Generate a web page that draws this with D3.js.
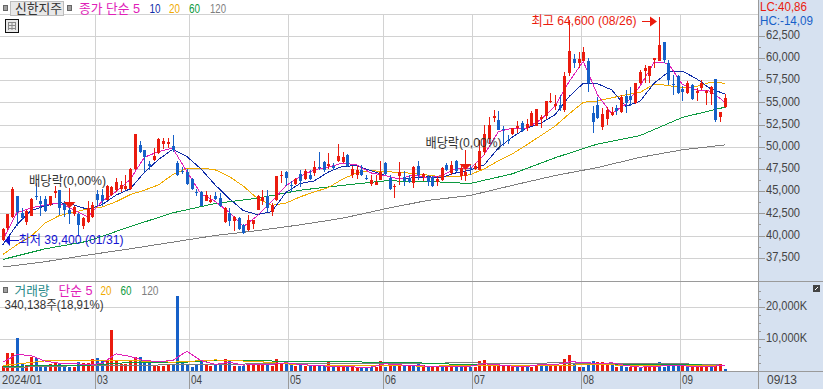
<!DOCTYPE html>
<html>
<head>
<meta charset="utf-8">
<script src="https://cdn.jsdelivr.net/npm/d3@7"></script>
<style>
  html, body { margin: 0; padding: 0; background: #fff; }
  svg { display: block; }
  text { font-family: "Liberation Sans", "Noto Sans CJK KR", sans-serif; font-size: 13px; }
</style>
</head>
<body>
<div id="chart"></div>
<script>
// open, high, low, close per trading day, 2024/01/31 to 09/13
const candles = [
  [39450,40850,39400,40750],[40850,42450,40650,42450],[42100,45450,41950,45250],[44400,44400,41050,42600],
  [42550,43100,41700,41950],[41500,42900,41200,42800],[42250,44200,42150,44150],[44500,45900,43950,44400],
  [43900,44400,42250,43600],[44100,44400,42600,42800],[43400,44500,43350,44500],[44800,45550,44200,45050],
  [45100,45150,42350,43150],[43600,43850,42100,42900],[42850,43300,41350,42450],[42450,43300,42250,43200],
  [42400,42550,40100,41150],[41050,42100,40750,41950],[41500,43850,41400,43100],[42100,43750,41950,43450],
  [44700,45150,43350,44050],[44600,45250,43300,43900],[44050,45700,43950,45600],[44600,45550,44500,45450],
  [45150,46450,44850,46000],[45250,46100,44950,45650],[45250,46850,45100,45550],[45250,47550,45150,47500],
  [47500,51450,47400,51450],[50200,50600,49300,49450],[49600,49650,47200,48850],[48050,48400,47400,47800],
  [48450,49850,48350,48900],[49300,50950,49200,50900],[50350,50950,49750,50600],[50250,50950,49850,50550],
  [50050,51350,49450,49650],[48150,48350,46650,46850],[47250,47700,46900,47100],[47200,47500,45700,45800],
  [46350,46450,45150,45250],[44900,45250,44400,44800],[44950,45050,43300,43350],[43900,45050,43850,44600],
  [43750,44600,43650,44050],[44400,44850,44050,44150],[44200,44800,43200,43350],[41500,43200,41400,43100],
  [42550,43100,41100,41650],[41650,42250,40550,42100],[41950,42100,40600,40750],[41200,41350,40200,40300],
  [40600,42350,40500,41800],[41300,41800,40750,41700],[42900,44600,42900,44400],[43900,45150,43450,44350],
  [44500,45150,42700,43100],[42700,43650,42250,43450],[44050,46750,43850,46750],[46750,47300,45900,46850],
  [47150,47300,45550,46450],[45650,46100,44950,45600],[45850,46450,45700,46350],[46950,47400,45450,46100],
  [46350,47500,46200,47300],[46850,47400,46200,46350],[47050,48350,46750,47700],[47700,49350,47400,47650],
  [48250,48350,47200,47400],[47850,49300,47500,48100],[47800,48150,47400,47600],[48350,50250,48250,49000],
  [48250,49450,48150,48850],[49100,49200,47700,47800],[46850,47850,46450,47500],[46800,47850,46350,47400],
  [47350,47950,46650,46850],[46450,46850,46200,46400],[45850,46850,45600,46300],[45700,46850,45700,46000],
  [46300,48350,46200,47150],[48150,48250,46850,46900],[46450,46850,45150,45250],[45450,45850,44200,45600],
  [46750,48250,45700,47100],[46600,47300,45550,46100],[46450,46850,45900,46000],[45900,47800,45350,47700],
  [47800,48350,46300,46850],[46550,47050,46100,46950],[46550,46850,45600,46000],[46550,46650,45450,45550],
  [46000,46650,45550,46350],[46200,47700,46100,47600],[47950,48150,47300,47400],[47050,48350,46850,47950],
  [48400,48550,47200,47300],[46650,48050,46300,47600],[46750,47700,46100,47100],[47550,47950,46850,47500],
  [47500,48150,47400,47850],[47400,50800,47400,49500],[49350,52500,49100,51450],[50850,53400,50250,52500],
  [53250,54150,52750,53500],[53050,54050,51850,51900],[51950,52300,50050,51900],[50800,51350,50350,50750],
  [51450,52100,51350,52050],[52050,52950,51550,52350],[52650,52850,51600,51750],[52050,53100,51750,52600],
  [52350,54000,52300,53850],[52350,54300,52300,54300],[53100,53600,52100,53350],[53500,55100,53100,55100],
  [55000,56100,54900,55200],[54600,55850,54150,54850],[54650,55850,54000,54350],[54100,58450,53950,58000],
  [58350,64300,58000,60800],[59900,60450,58900,59450],[59450,60700,58900,59900],[59700,61200,59700,60700],
  [59600,60000,56200,57200],[53850,54550,51550,52750],[54750,55650,53100,53250],[52200,54400,51900,53700],
  [53100,54450,52500,54100],[53600,54450,53500,53950],[54350,54750,53600,54050],[53950,55850,53850,55650],
  [55750,56400,53850,54950],[55750,56750,54600,55300],[54900,57200,54850,57200],[57200,58650,57100,58400],
  [58500,59250,57150,58850],[58000,59100,57200,59100],[59800,60000,58900,60000],[59700,64600,59600,61500],
  [61800,61800,59450,59800],[59450,59800,57000,57550],[57100,58100,55850,57050],[58000,58100,55950,56050],
  [56550,56800,55200,56200],[56050,57350,55950,57150],[57000,57100,55300,55350],[56100,56650,55200,56250],
  [56600,57550,56400,57150],[56100,56400,54750,56300],[55950,56800,54750,56700],[57600,57650,52800,53050],
  [53350,53950,52800,53900],[54450,55950,54350,55500]
];

// price moving averages, every 3rd trading day
const ma5 = [39500,42550,43100,43450,43650,42900,42100,43800,44950,46300,48800,49450,49850,47200,44700,43850,42600,41000,42250,43850,45600,46650,47400,47700,48150,47950,47050,46750,46350,46850,46500,46750,47550,47500,49100,51700,52100,52100,53050,54550,57350,59600,55850,53700,54800,56800,59500,59400,57000,56400,56250,55000];
const ma10 = [38950,41200,42800,43350,43700,43450,42950,43450,44550,45250,47100,48550,49700,48900,47500,45700,44150,42800,42350,42700,44850,45850,46150,47150,47800,47850,47300,46750,46350,46500,46600,46550,47050,47350,47950,49850,51100,52100,52650,53600,55650,57150,57100,56400,54550,55100,57150,58400,58500,57650,56500,55950];
const ma20 = [37850,38950,39900,41400,42250,42600,43000,43200,43800,44600,45100,45700,46850,47550,47600,47400,46650,45550,44150,43400,43650,44350,44900,45400,46350,47050,47300,47200,47100,47000,46800,46600,46600,46850,47500,48400,49200,50200,51250,52300,53700,55000,55150,55500,55850,56100,57050,56900,56600,56800,57250,57150];
// slower averages, every 9th trading day
const ma60 = [37300,38500,39350,41000,42550,43600,44200,45100,45650,46150,46100,45850,46950,48750,50300,51250,53300,54450];
const ma120 = [36450,37050,37800,38500,39250,40000,40550,41200,41950,43000,43950,44500,45650,46750,47650,48800,49650,50200];

// volume in thousands of shares
const volumes = [1560,5620,5620,10190,2080,1870,4370,3950,1870,1870,2080,2290,2500,1250,1250,1250,2810,2290,2290,3740,4060,3430,3120,12790,3330,2080,2080,3330,4370,4370,2290,2290,1560,1560,1560,2080,1870,23400,2600,1770,1250,2080,2910,1870,1560,2080,1870,3640,3120,1560,1560,1560,1870,2080,2500,2080,2080,1560,3640,2080,2080,2080,1450,2080,1450,1450,1450,1450,1450,2600,1450,1770,1450,1450,1250,1040,1040,1040,1040,1250,3120,1250,1450,1450,1450,1450,1450,1870,2080,1870,1040,1040,1450,1250,1250,1040,1250,1250,1250,1250,1250,2910,3430,1560,1450,1450,1450,1450,1450,1870,1450,1250,1250,1870,1870,1870,2080,1560,1350,3640,4990,2080,1250,1250,2080,3120,2600,2600,2080,2080,1250,2080,940,1250,1040,1040,1250,1250,1450,2600,1250,1770,1450,1450,1450,1250,1040,1250,1250,1250,1040,2080,2080,340];
const volumeUp = "rrrbbrrbbbrrbbbrbrrrbbrrrrrrrbbbrrrrbbbbbbbrrbbrbrbbrrrrbrrrbbrbrbrbbrbrrbrrbbbrrbrbrbrbbrbrrbrrbbrbrrrrrrrrrbrbrrbbrrrrrbrbbbrrrbrbbrrbrrrbbbbbrbrrrrbrr";

const volMa5 = [2600,5000,4700,2900,2300,2100,1900,2100,5200,4400,3100,2800,3100,6000,3100,1900,2600,1700,1800,1900,2400,1900,1550,1350,1350,1050,1050,2100,1750,1550,1350,1250,1350,1350,2100,1750,1350,1250,1900,1750,2700,2600,2100,2400,1550,1050,1250,1550,1450,1250,1250,1650];
const volMa20 = [1550,3000,3100,3100,2600,3300,2800,1750,1550,1550,1350,1550,1650,1550,1900,1450,1450,1450];
const volMa60 = [1250,1550,1650,2500,2400,3100,3000,2900,2700,2600,2300,1750,1550,1550,1900,1750,1950,1450];
const volMa120 = [850,1250,1550,1650,1750,1850,2100,2100,2100,2300,2300,2400,2100,2400,2100,2100,2100,1650];

const priceTicks = [37500,40000,42500,45000,47500,50000,52500,55000,57500,60000,62500];
const priceGrid = [37500,40000,42500,45000,47500,50000,52500,55000,57500,60000,62500,65000];
const priceMinorTicks = [38750,41250,43750,46250,48750,51250,53750,56250,58750,61250,63750];
const volumeTicks = [10000,20000];
const volumeMinorTicks = [2500,5000,7500,12500,15000,17500,22500,25000];

const monthLabels = ["03","04","05","06","07","08","09"];
const monthStarts = [20,40,61,81,100,123,144];
const dividendDays = [14,98];

const red = "#ea1b0e", blue = "#1660c8", magenta = "#e020b8", navy = "#0f2ca8";
const orange = "#f0aa00", green = "#0c9a40", gray = "#7e7e7e";
const lowBlue = "#1414d2", panelBg = "#d6e1f0", gridColor = "#d2d2d2", lineColor = "#9a9a9a", textColor = "#444";

const width = 823, height = 389, plotRight = 758;

const x = d3.scaleLinear().domain([0, 153]).range([2.7, 724.9]);
const y = d3.scaleLinear().domain([50000, 62500]).range([146.7, 35.7]);
const yVol = d3.scaleLinear().domain([0, 20000]).range([370.5, 306.5]);
const gridX = (i) => Math.round(x(i) - 2.4) + 0.5;

const svg = d3.select("#chart").append("svg").attr("width", width).attr("height", height);

// axis panels
svg.append("rect").attr("x", plotRight).attr("y", 0).attr("width", width - plotRight).attr("height", height).attr("fill", panelBg);
svg.append("rect").attr("x", 0).attr("y", 371).attr("width", width).attr("height", 18).attr("fill", panelBg);

// grid
const grid = svg.append("g").attr("stroke", gridColor).attr("shape-rendering", "crispEdges");
grid.selectAll(".h").data(priceGrid).join("line").attr("class", "h")
  .attr("x1", 0).attr("x2", plotRight)
  .attr("y1", (d) => Math.round(y(d)) + 0.5).attr("y2", (d) => Math.round(y(d)) + 0.5);
grid.selectAll(".v").data(volumeTicks).join("line").attr("class", "v")
  .attr("x1", 0).attr("x2", plotRight)
  .attr("y1", (d) => Math.round(yVol(d)) + 0.5).attr("y2", (d) => Math.round(yVol(d)) + 0.5);
grid.selectAll(".m").data(monthStarts).join("line").attr("class", "m")
  .attr("x1", gridX).attr("x2", gridX).attr("y1", 14).attr("y2", 371);

// panel borders
const borders = svg.append("g").attr("stroke", lineColor).attr("shape-rendering", "crispEdges");
borders.append("line").attr("x1", 0).attr("x2", width).attr("y1", 281.5).attr("y2", 281.5);
borders.append("line").attr("x1", 0).attr("x2", width).attr("y1", 371.5).attr("y2", 371.5);
borders.append("line").attr("x1", plotRight + 0.5).attr("x2", plotRight + 0.5).attr("y1", 0).attr("y2", height);
borders.selectAll(".m").data(monthStarts).join("line").attr("class", "m")
  .attr("x1", gridX).attr("x2", gridX).attr("y1", 372).attr("y2", height);

// price moving averages
const priceLine = (stride) => d3.line().x((d, i) => x(i * stride)).y((d) => y(d));
[[ma120, 9, gray], [ma60, 9, green], [ma20, 3, orange], [ma10, 3, navy], [ma5, 3, magenta]].forEach(([values, stride, color]) => {
  svg.append("path").attr("d", priceLine(stride)(values)).attr("fill", "none")
    .attr("stroke", color).attr("stroke-width", 1).attr("shape-rendering", "crispEdges");
});

// candles
const candleColor = (d) => (d[3] >= d[0] ? red : blue);
const candle = svg.append("g").attr("shape-rendering", "crispEdges");
candle.selectAll(".wick").data(candles).join("rect").attr("class", "wick")
  .attr("x", (d, i) => Math.round(x(i))).attr("width", 1)
  .attr("y", (d) => y(d[1])).attr("height", (d) => Math.max(1, y(d[2]) - y(d[1])))
  .attr("fill", candleColor);
candle.selectAll(".body").data(candles).join("rect").attr("class", "body")
  .attr("x", (d, i) => Math.round(x(i)) - 1).attr("width", 3)
  .attr("y", (d) => y(Math.max(d[0], d[3]))).attr("height", (d) => Math.max(1, Math.abs(y(d[0]) - y(d[3]))))
  .attr("fill", candleColor);

// volume bars
const volBars = svg.append("g").attr("shape-rendering", "crispEdges");
volBars.selectAll("rect").data(volumes).join("rect")
  .attr("x", (d, i) => Math.round(x(i)) - 1).attr("width", 3)
  .attr("y", (d) => Math.min(yVol(d), 368.5)).attr("height", (d) => Math.max(2, yVol(0) - yVol(d)))
  .attr("fill", (d, i) => (volumeUp[i] === "r" ? red : blue));

const volLine = (stride) => d3.line().x((d, i) => x(i * stride)).y((d) => yVol(d));
[[volMa120, 9, gray], [volMa60, 9, green], [volMa20, 9, orange], [volMa5, 3, magenta]].forEach(([values, stride, color]) => {
  svg.append("path").attr("d", volLine(stride)(values)).attr("fill", "none")
    .attr("stroke", color).attr("stroke-width", 1).attr("shape-rendering", "crispEdges");
});

// right axes
const axisStyle = (labelWidth) => (g) => {
  g.select(".domain").remove();
  g.selectAll("line").attr("stroke", lineColor).attr("shape-rendering", "crispEdges");
  g.selectAll("text").attr("fill", textColor).attr("dy", "0.22em").style("font-size", "13px")
    .attr("textLength", labelWidth).attr("lengthAdjust", "spacingAndGlyphs");
};
svg.append("g").attr("transform", `translate(${plotRight},0)`)
  .call(d3.axisRight(y).tickValues(priceTicks).tickSize(7).tickPadding(1).tickFormat(d3.format(",")))
  .call(axisStyle(34));
svg.append("g").attr("transform", `translate(${plotRight},0)`)
  .call(d3.axisRight(y).tickValues(priceMinorTicks).tickSize(3).tickFormat(""))
  .call(axisStyle(null));
svg.append("g").attr("transform", `translate(${plotRight},0)`)
  .call(d3.axisRight(yVol).tickValues(volumeTicks).tickSize(7).tickPadding(1).tickFormat((d) => d3.format(",")(d) + "K"))
  .call(axisStyle(41));
svg.append("g").attr("transform", `translate(${plotRight},0)`)
  .call(d3.axisRight(yVol).tickValues(volumeMinorTicks).tickSize(3).tickFormat(""))
  .call(axisStyle(null));

const addText = (label, tx, ty, color, len) => svg.append("text").attr("x", tx).attr("y", ty).attr("fill", color)
  .attr("textLength", len).attr("lengthAdjust", "spacingAndGlyphs").text(label);

// month labels
addText("2024/01", 2, 384, textColor, 40);
monthLabels.forEach((m, i) => addText(m, gridX(monthStarts[i]) + 1.5, 384, textColor, 11));
addText("09/13", 767, 384, textColor, 30);

// dividend markers
dividendDays.forEach((i) => {
  const cx = Math.round(x(i)) + 0.5;
  const top = i === 14 ? 188 : 150;
  svg.append("line").attr("x1", cx).attr("x2", cx).attr("y1", top).attr("y2", top + 15).attr("stroke", red);
  svg.append("path").attr("d", `M${cx - 6},${top + 14}h12l-6,6z`).attr("fill", red);
});
addText("배당락(0,00%)", 29, 185, "#333", 77);
addText("배당락(0,00%)", 425.5, 147, "#333", 76);

// high and low callouts
addText("최고 64,600 (08/26)", 531.5, 25, red, 105);
svg.append("line").attr("x1", 642).attr("x2", 652).attr("y1", 21.5).attr("y2", 21.5).attr("stroke", red);
svg.append("path").attr("d", "M650,16.5l7,5l-7,5z").attr("fill", red);
addText("최저 39,400 (01/31)", 18.5, 244, lowBlue, 105);
svg.append("line").attr("x1", 10).attr("x2", 19).attr("y1", 240.5).attr("y2", 240.5).attr("stroke", lowBlue);
svg.append("path").attr("d", "M10,235l-5,5.5l5,5.5z").attr("fill", lowBlue);

// top legend
const square = (sx, sy) => svg.append("rect").attr("x", sx + 0.5).attr("y", sy + 0.5).attr("width", 4).attr("height", 5)
  .attr("fill", "#a0a0a0").attr("stroke", "#666").attr("shape-rendering", "crispEdges");
square(3, 5);
square(67, 5);
svg.append("rect").attr("x", 10.5).attr("y", 1.5).attr("width", 53).attr("height", 14)
  .attr("fill", "#e8e8e8").attr("stroke", "#bcbcbc").attr("shape-rendering", "crispEdges");
addText("신한지주", 15, 13, "#333", 47);
addText("종가 단순 5", 79, 13, magenta, 61);
addText("10", 149.5, 13, navy, 11);
addText("20", 169, 13, orange, 11);
addText("60", 189, 13, green, 11);
addText("120", 210, 13, gray, 16);

// table icon
svg.append("rect").attr("x", 5.5).attr("y", 19.5).attr("width", 13).attr("height", 13)
  .attr("fill", "#e8e8e8").attr("stroke", "#111").attr("shape-rendering", "crispEdges");
svg.append("path").attr("d", "M8,22.5h8M8,25.5h8M8,28.5h8M8.5,22v8M12,22v8M15.5,22v8").attr("stroke", "#888").attr("fill", "none");

// volume legend
square(3, 287);
addText("거래량", 14.5, 295, "#2a8a8a", 35);
addText("단순 5", 58.5, 295, magenta, 34);
addText("20", 100.5, 295, orange, 11);
addText("60", 120.5, 295, green, 11);
addText("120", 141.5, 295, gray, 17);
addText("340,138주(18,91%)", 4.5, 309, "#333", 99);

// LC / HC readout
svg.append("text").attr("x", 760).attr("y", 11).attr("fill", red).attr("textLength", 47).attr("lengthAdjust", "spacingAndGlyphs").style("font-size", "12px").text("LC:40,86");
svg.append("text").attr("x", 760).attr("y", 25).attr("fill", blue).attr("textLength", 53).attr("lengthAdjust", "spacingAndGlyphs").style("font-size", "12px").text("HC:-14,09");

// expand button
svg.append("rect").attr("x", 813).attr("y", 285).attr("width", 7).attr("height", 7).attr("fill", "#444");
svg.append("path").attr("d", "M815,290l3,-3").attr("stroke", "#fff");
</script>
</body>
</html>
